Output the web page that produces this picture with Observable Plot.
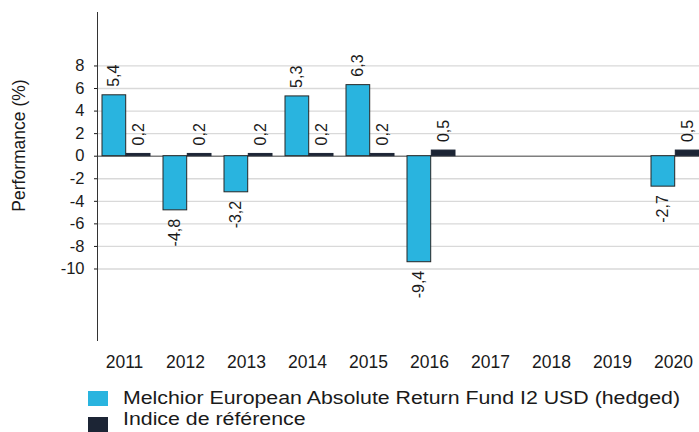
<!DOCTYPE html>
<html>
<head>
<meta charset="utf-8">
<script src="https://cdn.jsdelivr.net/npm/d3@7"></script>
<script src="https://cdn.jsdelivr.net/npm/@observablehq/plot@0.6"></script>
<style>
  html, body { margin: 0; padding: 0; background: #fff; }
  #wrap { position: relative; width: 699px; height: 432px; overflow: hidden; font-family: "Liberation Sans", Arial, sans-serif; color: #1a1a1a; }
  #chart { position: absolute; left: 0; top: 0; }
  .sw { position: absolute; left: 88px; width: 20px; height: 15px; }
  .lt { position: absolute; left: 123px; font-size: 18px; line-height: 18px; white-space: nowrap; transform-origin: 0 50%; }
</style>
</head>
<body>
<div id="wrap">
  <div id="chart"></div>
  <div id="legend"></div>
</div>
<script>
const years = ["2011", "2012", "2013", "2014", "2015", "2016", "2017", "2018", "2019", "2020"];
const fundValues = [5.4, -4.8, -3.2, 5.3, 6.3, -9.4, null, null, null, -2.7];
const benchValues = [0.2, 0.2, 0.2, 0.2, 0.2, 0.5, null, null, null, 0.5];
const yTicks = [8, 6, 4, 2, 0, -2, -4, -6, -8, -10];
const seriesNames = ["Melchior European Absolute Return Fund I2 USD (hedged)", "Indice de référence"];
const seriesColors = ["#29b4df", "#1c2535"];
const yLabel = "Performance (%)";

const fundRows = years.map((year, i) => ({year, value: fundValues[i]})).filter(d => d.value != null);
const benchRows = years.map((year, i) => ({year, value: benchValues[i]})).filter(d => d.value != null);
const fmt = d => String(d.value).replace(".", ",");

const HALF = 24.3; // half of the band width: each year band holds two bars

const labelMarks = (rows, dx) => [
  Plot.text(rows.filter(d => d.value >= 0), {x: "year", y: "value", text: fmt, rotate: -90, textAnchor: "start", lineAnchor: "middle", dx, dy: -8.5, fontSize: 16, fill: "#1a1a1a"}),
  Plot.text(rows.filter(d => d.value < 0), {x: "year", y: "value", text: fmt, rotate: -90, textAnchor: "end", lineAnchor: "middle", dx, dy: 8.5, fontSize: 16, fill: "#1a1a1a"})
];

const chart = Plot.plot({
  width: 699,
  height: 382,
  marginLeft: 97,
  marginRight: -5,
  marginTop: 12,
  marginBottom: 42,
  style: {fontFamily: "'Liberation Sans', Arial, sans-serif", background: "transparent", color: "#1a1a1a"},
  x: {domain: years, paddingInner: 0.206, paddingOuter: 0.06},
  y: {domain: [-16.34, 12.74]},
  marks: [
    Plot.ruleY(yTicks.filter(d => d !== 0), {stroke: "#d9d9d9", strokeWidth: 1.3}),
    Plot.ruleY([0], {stroke: "#7f7f7f", strokeWidth: 1.5}),
    Plot.barY(fundRows, {x: "year", y: "value", fill: seriesColors[0], stroke: "#262626", strokeWidth: 1, insetLeft: 0, insetRight: HALF}),
    Plot.barY(benchRows, {x: "year", y: "value", fill: seriesColors[1], stroke: seriesColors[1], strokeWidth: 1, insetLeft: HALF, insetRight: 0}),
    ...labelMarks(fundRows, -13),
    ...labelMarks(benchRows, 12),
    Plot.axisY({ticks: yTicks, tickSize: 3, tickPadding: 10, tickFormat: d => String(d), fontSize: 16.5, label: null}),
    Plot.frame({anchor: "left", stroke: "#333"}),
    Plot.axisX({tickSize: 0, tickPadding: 15, fontSize: 17.5, label: null, dx: -2}),
    Plot.text([yLabel], {frameAnchor: "left", text: d => d, rotate: -90, textAnchor: "middle", lineAnchor: "middle", dx: -78, dy: -31, fontSize: 17.5, fill: "#1a1a1a"})
  ]
});
document.getElementById("chart").appendChild(chart);

const legend = document.getElementById("legend");
const swTops = [391, 417];
const txtTops = [389, 410];
const legendRight = 680; // right edge of the longest legend text in the reference
seriesNames.forEach((name, i) => {
  const sw = document.createElement("div");
  sw.className = "sw";
  sw.style.top = swTops[i] + "px";
  sw.style.background = seriesColors[i];
  legend.appendChild(sw);
  const t = document.createElement("div");
  t.className = "lt";
  t.style.top = txtTops[i] + "px";
  t.textContent = name;
  legend.appendChild(t);
});
// the reference legend text is drawn wider than the font's natural width
const first = legend.querySelectorAll(".lt")[0];
const k = (legendRight - 123) / first.getBoundingClientRect().width;
legend.querySelectorAll(".lt").forEach(t => { t.style.transform = `scaleX(${k})`; });
</script>
</body>
</html>
